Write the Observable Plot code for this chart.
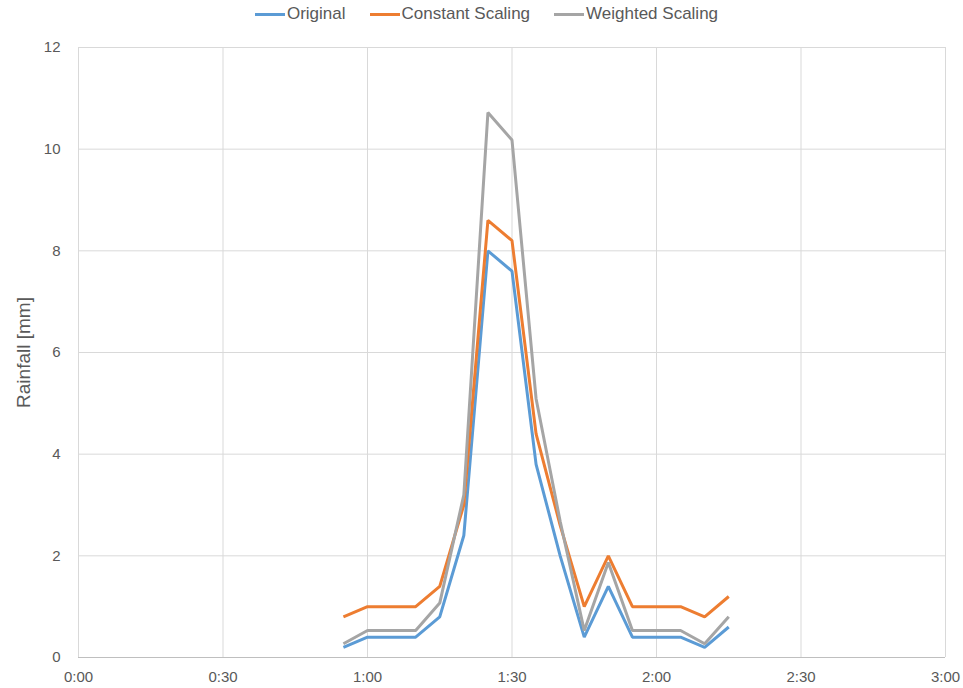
<!DOCTYPE html>
<html>
<head>
<meta charset="utf-8">
<script src="https://cdn.jsdelivr.net/npm/d3@7"></script>
<script src="https://cdn.jsdelivr.net/npm/@observablehq/plot@0.6"></script>
<style>
  body { margin: 0; background: #fff; font-family: "Liberation Sans", Arial, sans-serif; }
  #legend { height: 28px; display: flex; justify-content: center; align-items: center; gap: 24px; font-size: 17px; color: #595959; padding-left: 10px; box-sizing: border-box; }
  .item { display: flex; align-items: center; }
  .sw { width: 30px; height: 3px; margin-right: 2px; }
</style>
</head>
<body>
<div id="legend"></div>
<div id="chart"></div>
<script>
const minutes = [55, 60, 65, 70, 75, 80, 85, 90, 95, 100, 105, 110, 115, 120, 125, 130, 135];
const original = [0.2, 0.4, 0.4, 0.4, 0.8, 2.4, 8.0, 7.6, 3.8, 2.0, 0.4, 1.4, 0.4, 0.4, 0.4, 0.2, 0.6];
const constantScaling = [0.8, 1.0, 1.0, 1.0, 1.4, 3.0, 8.6, 8.2, 4.4, 2.6, 1.0, 2.0, 1.0, 1.0, 1.0, 0.8, 1.2];
const weightedScaling = [0.27, 0.53, 0.53, 0.53, 1.07, 3.2, 10.72, 10.18, 5.09, 2.68, 0.53, 1.87, 0.53, 0.53, 0.53, 0.27, 0.8];
const seriesNames = ["Original", "Constant Scaling", "Weighted Scaling"];
const seriesColors = ["#5B9BD5", "#ED7D31", "#A5A5A5"];
const xTicks = [0, 30, 60, 90, 120, 150, 180];
const yTicks = [0, 2, 4, 6, 8, 10, 12];

const allSeries = [original, constantScaling, weightedScaling];
const data = [];
allSeries.forEach((vals, si) => {
  vals.forEach((v, i) => data.push({series: seriesNames[si], t: minutes[i], v}));
});

const fmt = m => `${Math.floor(m / 60)}:${String(m % 60).padStart(2, "0")}`;

const legend = document.getElementById("legend");
seriesNames.forEach((n, i) => {
  const d = document.createElement("div");
  d.className = "item";
  d.innerHTML = `<span class="sw" style="background:${seriesColors[i]}"></span><span>${n}</span>`;
  legend.appendChild(d);
});

const chart = Plot.plot({
  width: 963,
  height: 660,
  marginTop: 19,
  marginBottom: 31,
  marginLeft: 78,
  marginRight: 18,
  style: {fontFamily: "Liberation Sans, Arial, sans-serif", fontSize: "15px", color: "#595959", background: "#fff"},
  x: {domain: [0, 180]},
  y: {domain: [0, 12]},
  color: {domain: seriesNames, range: seriesColors},
  marks: [
    Plot.gridX(xTicks, {stroke: "#d9d9d9", strokeOpacity: 1}),
    Plot.gridY(yTicks.filter(d => d > 0), {stroke: "#d9d9d9", strokeOpacity: 1}),
    Plot.ruleY([0], {stroke: "#bfbfbf"}),
    Plot.axisX({ticks: xTicks, tickFormat: fmt, tickSize: 0, tickPadding: 14, label: null, fill: "#595959"}),
    Plot.axisY({ticks: yTicks, tickSize: 0, tickPadding: 18, label: "Rainfall [mm]", labelAnchor: "center", labelArrow: "none", labelOffset: 62, fill: "#595959"}),
    Plot.line(data, {x: "t", y: "v", z: "series", stroke: "series", strokeWidth: 3, strokeLinejoin: "miter", strokeLinecap: "butt"})
  ]
});
document.getElementById("chart").appendChild(chart);
const lbl = chart.querySelectorAll("[aria-label='y-axis label'] text");
lbl.forEach(t => t.style.fontSize = "19px");
</script>
</body>
</html>
